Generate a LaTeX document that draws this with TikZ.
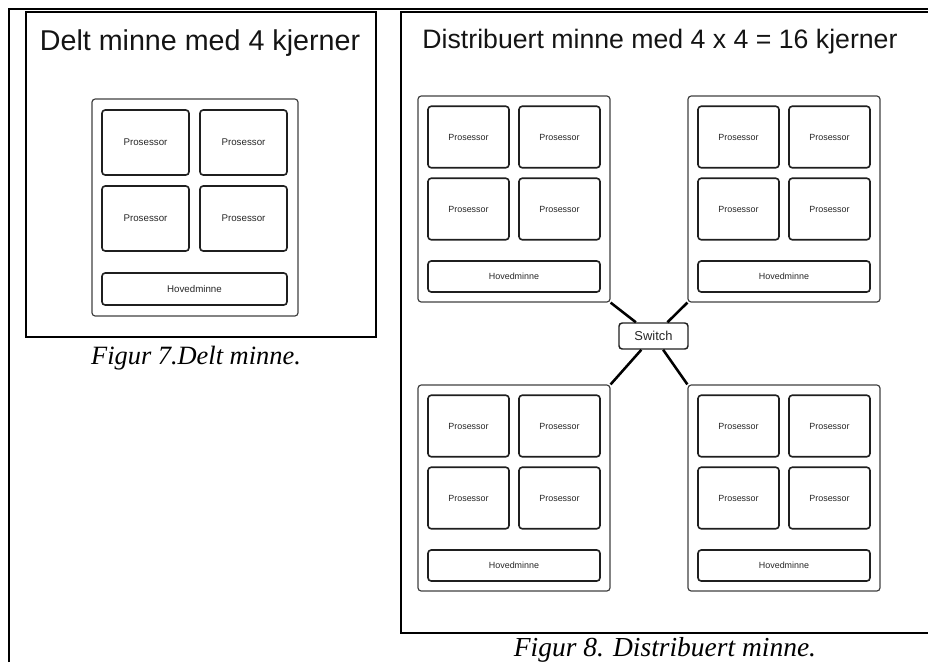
\documentclass[tikz,border=0pt]{standalone}
\usepackage{fontspec}
\setmainfont{Liberation Serif}
\newfontfamily\labelsans{Liberation Sans}

\tikzset{
  framebox/.style={draw=black, line width=1.5pt},
  unit/.style={draw=black!75, line width=0.9pt, rounded corners=2.4pt, inner sep=0pt},
  proc/.style={draw=black!88, line width=1.2pt, rounded corners=2.4pt, inner sep=0pt,
    text=black!85},
  smallfont/.style={font=\labelsans\fontsize{6.7}{8}\selectfont},
  midfont/.style={font=\labelsans\fontsize{7.3}{9}\selectfont},
  switchbox/.style={draw=black!88, line width=1.1pt, rounded corners=2.4pt, inner sep=0pt,
    minimum width=51.75pt, minimum height=19.5pt, text=black!85,
    font=\labelsans\fontsize{9.7}{11}\selectfont},
  link/.style={draw=black, line width=1.9pt},
  heading/.style={inner sep=0pt, text=black!92},
  caption/.style={inner sep=0pt, font=\itshape\fontsize{19.8}{22}\selectfont}
}

% one node of the distributed machine: four cores and a local memory
\newcommand\drawcluster[3]{%
  \begin{scope}[shift={(#2,#3)}]
    \node[unit, minimum width=144pt, minimum height=154.5pt] (#1) at (96,103) {};
    \node[proc, smallfont, minimum width=60.75pt, minimum height=46.1pt] (#1-p1) at (50.5,41) {Prosessor};
    \node[proc, smallfont, minimum width=60.75pt, minimum height=46.1pt] (#1-p2) at (141.5,41) {Prosessor};
    \node[proc, smallfont, minimum width=60.75pt, minimum height=46.1pt] (#1-p3) at (50.5,113) {Prosessor};
    \node[proc, smallfont, minimum width=60.75pt, minimum height=46.1pt] (#1-p4) at (141.5,113) {Prosessor};
    \node[proc, smallfont, minimum width=129pt, minimum height=23.25pt] (#1-mem) at (96,180.5) {Hovedminne};
  \end{scope}}

\begin{document}
\begin{tikzpicture}[x=0.75pt, y=-0.75pt]
  \useasboundingbox (0,0) rectangle (928,662);
  \clip (0,0) rectangle (928,662);

  % table rules
  \draw[line width=1.5pt] (9,662) -- (9,8.5) -- (930,8.5);

  % ---------- shared memory ----------
  \draw[framebox] (26,12) rectangle (376,337);
  \node[heading, font=\labelsans\fontsize{21.5}{24}\selectfont] (t1) at (200,43) {Delt minne med 4 kjerner};
  \node[unit, minimum width=154.5pt, minimum height=162.75pt] (shared) at (195,207.5) {};
  \node[proc, midfont, minimum width=65.25pt, minimum height=48.75pt] (s-p1) at (145.5,142.5) {Prosessor};
  \node[proc, midfont, minimum width=65.25pt, minimum height=48.75pt] (s-p2) at (243.5,142.5) {Prosessor};
  \node[proc, midfont, minimum width=65.25pt, minimum height=48.75pt] (s-p3) at (145.5,218.5) {Prosessor};
  \node[proc, midfont, minimum width=65.25pt, minimum height=48.75pt] (s-p4) at (243.5,218.5) {Prosessor};
  \node[proc, midfont, minimum width=138.75pt, minimum height=24pt] (s-mem) at (194.5,289) {Hovedminne};
  \node[caption] (c1) at (196,358) {Figur 7.Delt minne.};

  % ---------- distributed memory ----------
  \draw[framebox] (401,12) rectangle (940,633);
  \node[heading, font=\labelsans\fontsize{20}{24}\selectfont] (t2) at (660,42) {Distribuert minne med 4 x 4 = 16 kjerner};

  \drawcluster{tl}{418}{96}
  \drawcluster{tr}{688}{96}
  \drawcluster{bl}{418}{385}
  \drawcluster{br}{688}{385}

  \node[switchbox] (sw) at (653.5,336) {Switch};
  \draw[link] (tl.south east) -- (sw);
  \draw[link] (tr.south west) -- (sw);
  \draw[link] (bl.north east) -- (sw);
  \draw[link] (br.north west) -- (sw);

  \node[caption, font=\itshape\fontsize{20.6}{23}\selectfont] (c2) at (665,650) {Figur 8. Distribuert minne.};
\end{tikzpicture}
\end{document}
